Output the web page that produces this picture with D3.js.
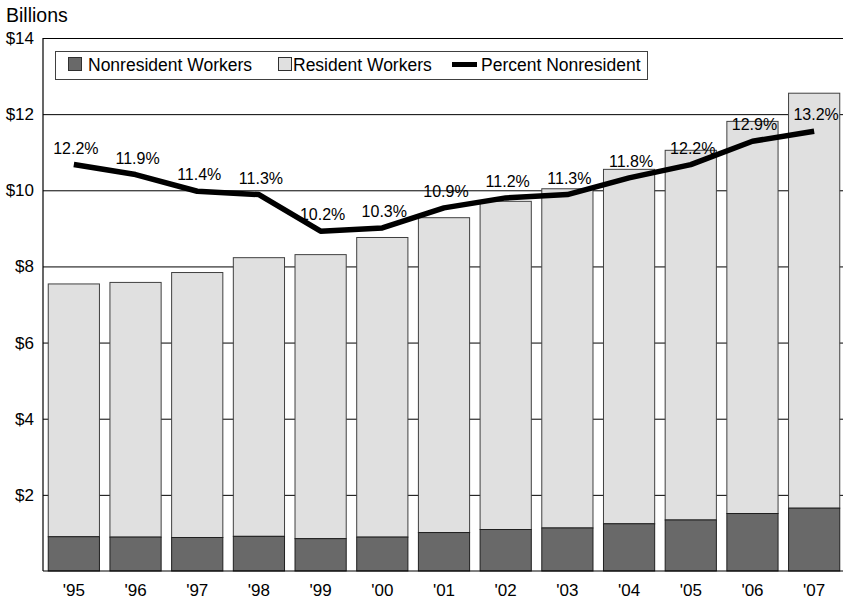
<!DOCTYPE html>
<html>
<head>
<meta charset="utf-8">
<script src="https://cdn.jsdelivr.net/npm/d3@7"></script>
<style>
  html, body { margin: 0; padding: 0; background: #fff; }
  svg { display: block; font-family: "Liberation Sans", Arial, sans-serif; }
</style>
</head>
<body>
<svg id="chart" width="843" height="600"></svg>
<script>
// chart data
var years = ["'95", "'96", "'97", "'98", "'99", "'00", "'01", "'02", "'03", "'04", "'05", "'06", "'07"];
var nonresident = [0.90, 0.89, 0.88, 0.91, 0.85, 0.89, 1.01, 1.09, 1.13, 1.24, 1.34, 1.51, 1.65];
var resident = [6.64, 6.69, 6.96, 7.32, 7.46, 7.87, 8.27, 8.62, 8.91, 9.31, 9.71, 10.30, 10.90];
var pctNonresident = [12.2, 11.9, 11.4, 11.3, 10.2, 10.3, 10.9, 11.2, 11.3, 11.8, 12.2, 12.9, 13.2];
var yTicks = [2, 4, 6, 8, 10, 12, 14];

// plot area (note: "top" is reserved on window, so use plot* names)
var plotLeft = 43, plotRight = 845, plotTop = 38, plotBottom = 571;

var svg = d3.select('#chart');

var x = d3.scaleBand()
    .domain(years)
    .range([plotLeft, plotRight])
    .paddingInner(0.17)
    .paddingOuter(0.085);

var y = d3.scaleLinear()
    .domain([0, 14])
    .range([plotBottom, plotTop]);

// hidden secondary scale for the percent line
var yPct = d3.scaleLinear()
    .domain([0, 16])
    .range([plotBottom, plotTop]);

var rows = years.map(function(yr, i) {
    return { year: yr, non: nonresident[i], res: resident[i], pct: pctNonresident[i] };
});

// "Billions" caption
svg.append('text')
    .attr('x', 6)
    .attr('y', 22)
    .style('font-size', '19.5px')
    .attr('fill', '#000')
    .text('Billions');

// gridlines
svg.append('g')
    .attr('transform', 'translate(' + plotLeft + ',0)')
    .call(d3.axisLeft(y).tickValues(yTicks).tickSize(-(plotRight - plotLeft)).tickFormat(''))
    .call(function(g) { g.select('.domain').remove(); })
    .selectAll('line')
    .attr('stroke', '#000')
    .attr('stroke-width', 1);

// y tick labels
svg.append('g')
    .attr('transform', 'translate(' + plotLeft + ',0)')
    .call(d3.axisLeft(y).tickValues(yTicks).tickSize(0).tickPadding(9).tickFormat(function(d) { return '$' + d; }))
    .call(function(g) { g.select('.domain').remove(); })
    .selectAll('text')
    .style('font-size', '17px')
    .style('font-family', '"Liberation Sans", Arial, sans-serif')
    .attr('fill', '#000');

// stacked bars
var bars = svg.append('g');

bars.selectAll('rect.res')
    .data(rows)
    .enter().append('rect')
    .attr('class', 'res')
    .attr('x', function(d) { return x(d.year); })
    .attr('width', x.bandwidth())
    .attr('y', function(d) { return y(d.non + d.res); })
    .attr('height', function(d) { return y(d.non) - y(d.non + d.res); })
    .attr('fill', '#e0e0e0')
    .attr('stroke', '#404040')
    .attr('stroke-width', 1);

bars.selectAll('rect.non')
    .data(rows)
    .enter().append('rect')
    .attr('class', 'non')
    .attr('x', function(d) { return x(d.year); })
    .attr('width', x.bandwidth())
    .attr('y', function(d) { return y(d.non); })
    .attr('height', function(d) { return y(0) - y(d.non); })
    .attr('fill', '#696969')
    .attr('stroke', '#202020')
    .attr('stroke-width', 1);

// axis lines
svg.append('line')
    .attr('x1', plotLeft).attr('x2', plotLeft)
    .attr('y1', plotTop).attr('y2', plotBottom)
    .attr('stroke', '#000').attr('stroke-width', 1.2);

svg.append('line')
    .attr('x1', plotLeft).attr('x2', plotRight)
    .attr('y1', plotBottom).attr('y2', plotBottom)
    .attr('stroke', '#000').attr('stroke-width', 1.2);

// x tick labels
svg.append('g')
    .attr('transform', 'translate(0,' + plotBottom + ')')
    .call(d3.axisBottom(x).tickSize(0).tickPadding(13))
    .call(function(g) { g.select('.domain').remove(); })
    .selectAll('text')
    .style('font-size', '17px')
    .style('font-family', '"Liberation Sans", Arial, sans-serif')
    .attr('fill', '#000');

// percent line
var line = d3.line()
    .x(function(d) { return x(d.year) + x.bandwidth() / 2; })
    .y(function(d) { return yPct(d.pct); });

svg.append('path')
    .datum(rows)
    .attr('d', line)
    .attr('fill', 'none')
    .attr('stroke', '#000')
    .attr('stroke-width', 5.5)
    .attr('stroke-linejoin', 'round');

svg.append('g')
    .selectAll('text')
    .data(rows)
    .enter().append('text')
    .attr('x', function(d) { return x(d.year) + x.bandwidth() / 2 + 2; })
    .attr('y', function(d) { return yPct(d.pct) - 11; })
    .attr('text-anchor', 'middle')
    .style('font-size', '16px')
    .attr('fill', '#000')
    .text(function(d) { return d3.format('.1f')(d.pct) + '%'; });

// legend
var legend = svg.append('g');

legend.append('rect')
    .attr('x', 55.5).attr('y', 51.5)
    .attr('width', 592).attr('height', 28)
    .attr('fill', '#fff')
    .attr('stroke', '#404040')
    .attr('stroke-width', 1);

var legendItems = [
    { label: 'Nonresident Workers', kind: 'box', fill: '#696969', sx: 68, tx: 88 },
    { label: 'Resident Workers', kind: 'box', fill: '#e0e0e0', sx: 278, tx: 293 },
    { label: 'Percent Nonresident', kind: 'line', sx: 452, tx: 481 }
];

legendItems.forEach(function(item) {
    if (item.kind === 'box') {
        legend.append('rect')
            .attr('x', item.sx + 0.5).attr('y', 57.5)
            .attr('width', 13).attr('height', 13)
            .attr('fill', item.fill)
            .attr('stroke', '#303030')
            .attr('stroke-width', 1);
    } else {
        legend.append('line')
            .attr('x1', item.sx).attr('x2', item.sx + 25)
            .attr('y1', 64.5).attr('y2', 64.5)
            .attr('stroke', '#000')
            .attr('stroke-width', 5);
    }
    legend.append('text')
        .attr('x', item.tx)
        .attr('y', 71)
        .style('font-size', '17.5px')
        .attr('fill', '#000')
        .text(item.label);
});
</script>
</body>
</html>
